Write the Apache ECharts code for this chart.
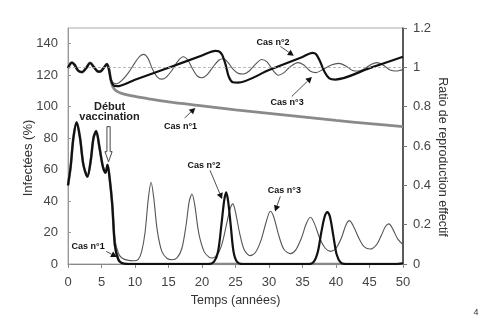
<!DOCTYPE html>
<html>
<head>
<meta charset="utf-8">
<script src="https://cdn.jsdelivr.net/npm/echarts@6/dist/echarts.min.js"></script>
<style>html,body{margin:0;padding:0;background:#fff;}#c{width:484px;height:328px;}</style>
</head>
<body>
<div id="c"></div>
<script>
// ---- Data ----
// Infected (%) — shared pre‑vaccination part [time, %]
const infPre = [[0,50],[0.4,62],[0.8,80],[1.3,90],[1.8,80],[2.3,63],[2.9,55.5],[3.4,66],[3.8,80],[4.2,84.5],[4.7,74],[5.2,62],[5.6,58],[5.9,63],[6.2,55],[6.6,38]];
const infCas1 = [[7.0,12],[7.5,3],[8,0.7],[9,0],[20,0],[35,0],[50,0]];
const infCas2 = [[7.0,12],[7.5,3],[8,0.6],[9,0],[21,0],[21.8,1.5],[22.4,8],[22.9,25],[23.3,40],[23.6,45.5],[23.9,40],[24.3,24],[24.7,8],[25.2,1.5],[26,0],[36,0],[36.7,1.5],[37.3,8],[37.8,20],[38.3,30],[38.7,33],[39.1,30],[39.6,18],[40.1,6],[40.7,1],[41.5,0],[49,0],[50,0.5]];
const infCas3 = [[7,16],[7.5,7],[8,4],[9,2.3],[9.8,2.1],[10.5,3],[11,8],[11.5,20],[12,42],[12.4,52],[12.8,42],[13.3,22],[14,8],[14.8,3.5],[15.5,2.7],[16.3,4],[17,10],[17.6,24],[18.1,40],[18.5,44.5],[18.9,38],[19.5,20],[20.3,8],[21,4.5],[21.5,3.8],[22.3,6],[23,13],[23.7,26],[24.2,35],[24.6,38.2],[25,33],[25.6,20],[26.3,9],[27.2,5.3],[28,7.5],[28.8,15],[29.6,27],[30.2,33.5],[30.7,30],[31.4,19],[32.2,9.5],[33.2,6.6],[34,9],[34.8,16],[35.6,26],[36.2,29.7],[36.8,25.5],[37.6,16],[38.4,10],[39.2,8],[40,10],[40.8,16.5],[41.5,25],[42,27.6],[42.6,24],[43.4,16.5],[44.2,11],[45.1,9.5],[46,12],[46.8,18.5],[47.4,24],[47.9,25.5],[48.5,22],[49.2,16],[50,12.3]];

// Effective reproduction ratio — shared pre‑vaccination part [time, ratio]
const ratioPre = [[0,0.996],[0.3,1.016],[0.6,1.024],[1,1.012],[1.5,0.984],[2.1,0.976],[2.7,0.996],[3.3,1.022],[3.9,1.0],[4.4,0.98],[4.8,0.978],[5.3,0.996],[5.8,1.016],[6.1,0.992],[6.4,0.936]];
const ratioCas1 = [[6.7,0.9],[7.2,0.88],[8,0.868],[10,0.852],[12,0.84],[15,0.824],[20,0.804],[25,0.784],[30,0.766],[35,0.748],[40,0.73],[45,0.714],[50,0.698]];
const ratioCas2 = [[6.8,0.908],[7.3,0.904],[10,0.937],[15,0.998],[20,1.06],[22,1.084],[22.5,1.082],[23,1.064],[23.5,1.016],[24,0.952],[24.6,0.924],[25.3,0.922],[30,0.986],[35,1.053],[36.5,1.074],[37,1.068],[37.6,1.032],[38.3,0.976],[39,0.944],[39.9,0.938],[45,0.996],[50,1.054]];
const ratioCas3 = [[6.8,0.92],[7.2,0.916],[8,0.932],[9,0.972],[10,1.024],[10.7,1.056],[11.3,1.066],[11.9,1.048],[12.6,0.992],[13.3,0.952],[14,0.94],[14.6,0.948],[15.5,0.984],[16.4,1.032],[17.2,1.054],[17.9,1.036],[18.6,0.992],[19.3,0.956],[20,0.947],[20.7,0.96],[21.6,1.0],[22.5,1.036],[23.2,1.044],[23.9,1.024],[24.7,0.988],[25.5,0.968],[26.2,0.966],[27,0.98],[28,1.016],[28.9,1.04],[29.7,1.028],[30.6,0.984],[31.4,0.96],[32.2,0.972],[33.2,1.004],[34.3,1.024],[35.2,1.012],[36.2,0.98],[37,0.973],[38,0.988],[39.3,1.012],[40.4,1.02],[41.4,1.008],[42.5,0.984],[43.4,0.981],[44.4,0.996],[45.3,1.016],[46.1,1.024],[47,1.012],[48,0.988],[48.9,0.981],[49.5,0.984],[50,0.989]];

const xTicks = {min:0, max:50, step:5};
const leftTicks = {min:0, max:150, step:20};
const rightTicks = {min:0, max:1.2, step:0.2};

(function(){
// ---- Chart ----
const FONT = 'Liberation Sans, Arial, sans-serif';
const chart = echarts.init(document.getElementById('c'), null, {renderer:'canvas'});
const smooth = 0.3;
chart.setOption({
  animation:false,
  backgroundColor:'#fff',
  grid:{left:68,right:81,top:28,bottom:64,show:true,borderColor:'#aaa',borderWidth:1},
  xAxis:{type:'value',min:xTicks.min,max:xTicks.max,interval:xTicks.step,
    axisLine:{lineStyle:{color:'#888',width:1}},
    axisTick:{length:4,lineStyle:{color:'#888'}},
    axisLabel:{color:'#444',fontSize:13,margin:12,fontFamily:FONT},
    splitLine:{show:false},
    name:'Temps (années)',nameLocation:'middle',nameGap:27,
    nameTextStyle:{fontSize:12.5,color:'#333',fontFamily:FONT}},
  yAxis:[
    {type:'value',position:'left',min:leftTicks.min,max:leftTicks.max,interval:leftTicks.step,
     axisLine:{show:true,lineStyle:{color:'#999'}},
     axisTick:{show:true,inside:true,length:3,lineStyle:{color:'#999'}},
     axisLabel:{color:'#444',fontSize:13,margin:10,fontFamily:FONT,showMaxLabel:false},
     splitLine:{show:false}},
    {type:'value',position:'right',min:rightTicks.min,max:rightTicks.max,interval:rightTicks.step,
     axisLine:{show:true,lineStyle:{color:'#333',width:1.5}},
     axisTick:{show:true,length:4,lineStyle:{color:'#777'}},
     axisLabel:{color:'#444',fontSize:13,margin:10,fontFamily:FONT,
       formatter:v=>String(+(+v).toFixed(1))},
     splitLine:{show:false}}
  ],
  series:[
    {type:'line',name:'inf3',data:infPre.concat(infCas3),smooth,showSymbol:false,
     lineStyle:{color:'#555',width:1.1},z:2},
    {type:'line',name:'ratio3',yAxisIndex:1,data:ratioPre.concat(ratioCas3),smooth,showSymbol:false,
     lineStyle:{color:'#555',width:1.1},z:2,
     markLine:{silent:true,symbol:'none',label:{show:false},
       lineStyle:{color:'#aaa',type:[3,2],width:0.8},data:[{yAxis:1}]}},
    {type:'line',name:'inf1',data:infPre.concat(infCas1),smooth,showSymbol:false,
     lineStyle:{color:'#888',width:2.6},z:3},
    {type:'line',name:'ratio1',yAxisIndex:1,data:ratioPre.concat(ratioCas1),smooth,showSymbol:false,
     lineStyle:{color:'#8a8a8a',width:2.8},z:3},
    {type:'line',name:'inf2',data:infPre.concat(infCas2),smooth,showSymbol:false,
     lineStyle:{color:'#111',width:2.2},z:4},
    {type:'line',name:'ratio2',yAxisIndex:1,data:ratioPre.concat(ratioCas2),smooth,showSymbol:false,
     lineStyle:{color:'#111',width:2.2},z:4}
  ]
});

// ---- Annotations (anchored in data units of the left axis) ----
const notes = [
  {text:'Cas n°1', at:[16.8,87.3], from:[17.4,92.8], to:[19.0,99.2]},
  {text:'Cas n°2', at:[30.6,140.7], from:[31.7,138.3], to:[33.7,132.4]},
  {text:'Cas n°3', at:[32.7,102.5], from:[33.4,106.5], to:[36.4,118.9]},
  {text:'Cas n°2', at:[20.3,62.5], from:[21.2,59.5], to:[23.0,41.3]},
  {text:'Cas n°3', at:[32.3,46.6], from:[31.7,43.0], to:[30.9,33.4]},
  {text:'Cas n°1', at:[3.0,11.0], from:[5.7,8.0], to:[7.3,4.4]}
];
const px = p => chart.convertToPixel({xAxisIndex:0,yAxisIndex:0}, p);
const g = [];
notes.forEach(n => {
  const c = px(n.at), a = px(n.from), b = px(n.to);
  g.push({type:'text',x:c[0],y:c[1],z:20,style:{text:n.text,fill:'#111',font:'bold 9px '+FONT,align:'center',verticalAlign:'middle'}});
  const dx=b[0]-a[0], dy=b[1]-a[1], L=Math.hypot(dx,dy), ux=dx/L, uy=dy/L;
  const hl=6, hw=3.2;
  const bx=b[0]-ux*hl, by=b[1]-uy*hl;
  g.push({type:'line',z:20,shape:{x1:a[0],y1:a[1],x2:bx,y2:by},style:{stroke:'#222',lineWidth:0.8}});
  g.push({type:'polygon',z:20,shape:{points:[[b[0],b[1]],[bx-uy*hw,by+ux*hw],[bx+uy*hw,by-ux*hw]]},style:{fill:'#111'}});
});
// "Début vaccination"
const d1 = px([6.2,100]), d2 = px([6.2,93.3]);
g.push({type:'text',x:d1[0],y:d1[1],z:20,style:{text:'Début',fill:'#222',font:'bold 11px '+FONT,align:'center',verticalAlign:'middle'}});
g.push({type:'text',x:d2[0],y:d2[1],z:20,style:{text:'vaccination',fill:'#222',font:'bold 11px '+FONT,align:'center',verticalAlign:'middle'}});
const aTop = px([6.05,87.3]), aBase = px([6.05,71.4]), aTip = px([6.05,65]);
const sw=1.6, hw2=3.6, cx=aTop[0];
g.push({type:'polygon',z:20,shape:{points:[[cx-sw,aTop[1]],[cx+sw,aTop[1]],[cx+sw,aBase[1]],[cx+hw2,aBase[1]],[cx,aTip[1]],[cx-hw2,aBase[1]],[cx-sw,aBase[1]]]},
  style:{fill:'#fff',stroke:'#333',lineWidth:0.9}});
// Axis titles
g.push({type:'text',x:28.5,y:158,rotation:Math.PI/2,z:20,style:{text:'Infectées (%)',fill:'#333',font:'13px '+FONT,align:'center',verticalAlign:'middle'}});
g.push({type:'text',x:442,y:157,rotation:-Math.PI/2,z:20,style:{text:'Ratio de reproduction effectif',fill:'#333',font:'12.5px '+FONT,align:'center',verticalAlign:'middle'}});
// Page number
g.push({type:'text',x:476,y:313,z:20,style:{text:'4',fill:'#333',font:'9px '+FONT,align:'center',verticalAlign:'middle'}});
chart.setOption({graphic:g});
})();
</script>
</body>
</html>
